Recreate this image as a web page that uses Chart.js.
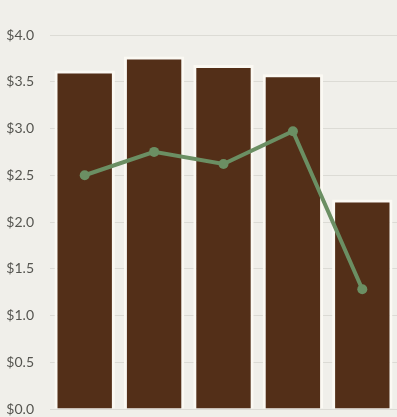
<!DOCTYPE html>
<html lang="en">
<head>
    <meta charset="UTF-8">
    <title>Prices</title>
    <script src="https://cdn.jsdelivr.net/npm/chart.js"></script>
    <style>
        html, body {
            margin: 0;
            padding: 0;
            background: #f0efea;
            overflow: hidden;
        }
        canvas { display: block; }
    </style>
</head>
<body>
    <canvas id="chart" width="397" height="417"></canvas>

    <script>
        const categories = ['A', 'B', 'C', 'D', 'E'];
        const barValues = [3.62, 3.77, 3.68, 3.58, 2.24];
        const lineValues = [2.50, 2.75, 2.62, 2.97, 1.28];
        const yTicks = [0, 0.5, 1.0, 1.5, 2.0, 2.5, 3.0, 3.5, 4.0];

        const ctx = document.getElementById('chart').getContext('2d');

        new Chart(ctx, {
            type: 'bar',
            data: {
                labels: categories,
                datasets: [
                    {
                        type: 'line',
                        data: lineValues,
                        borderColor: '#6b8f63',
                        backgroundColor: '#6b8f63',
                        borderWidth: 4,
                        pointRadius: 5,
                        pointBackgroundColor: '#6b8f63',
                        pointBorderWidth: 0,
                        tension: 0,
                        order: 0
                    },
                    {
                        data: barValues,
                        backgroundColor: '#532f18',
                        borderColor: '#fbf9f3',
                        borderWidth: 3,
                        barPercentage: 0.87,
                        categoryPercentage: 1,
                        order: 1
                    }
                ]
            },
            options: {
                responsive: false,
                animation: false,
                layout: {
                    autoPadding: false,
                    padding: { top: 35, bottom: 8, left: 0, right: 0 }
                },
                plugins: {
                    legend: { display: false },
                    tooltip: { enabled: false }
                },
                scales: {
                    x: {
                        display: false
                    },
                    y: {
                        min: 0,
                        max: 4,
                        afterFit: (scale) => {
                            scale.width = 50;
                            // keep tick labels from pushing the plot area in
                            scale.paddingTop = 0;
                            scale.paddingBottom = 0;
                        },
                        afterBuildTicks: (scale) => {
                            scale.ticks = yTicks.map(v => ({ value: v }));
                        },
                        border: { display: false },
                        grid: {
                            color: '#dcdbd5',
                            drawTicks: false
                        },
                        ticks: {
                            padding: 16,
                            color: '#555550',
                            font: { family: 'Lato', size: 14 },
                            callback: (v) => '$' + v.toFixed(1)
                        }
                    }
                }
            }
        });
    </script>
</body>
</html>
